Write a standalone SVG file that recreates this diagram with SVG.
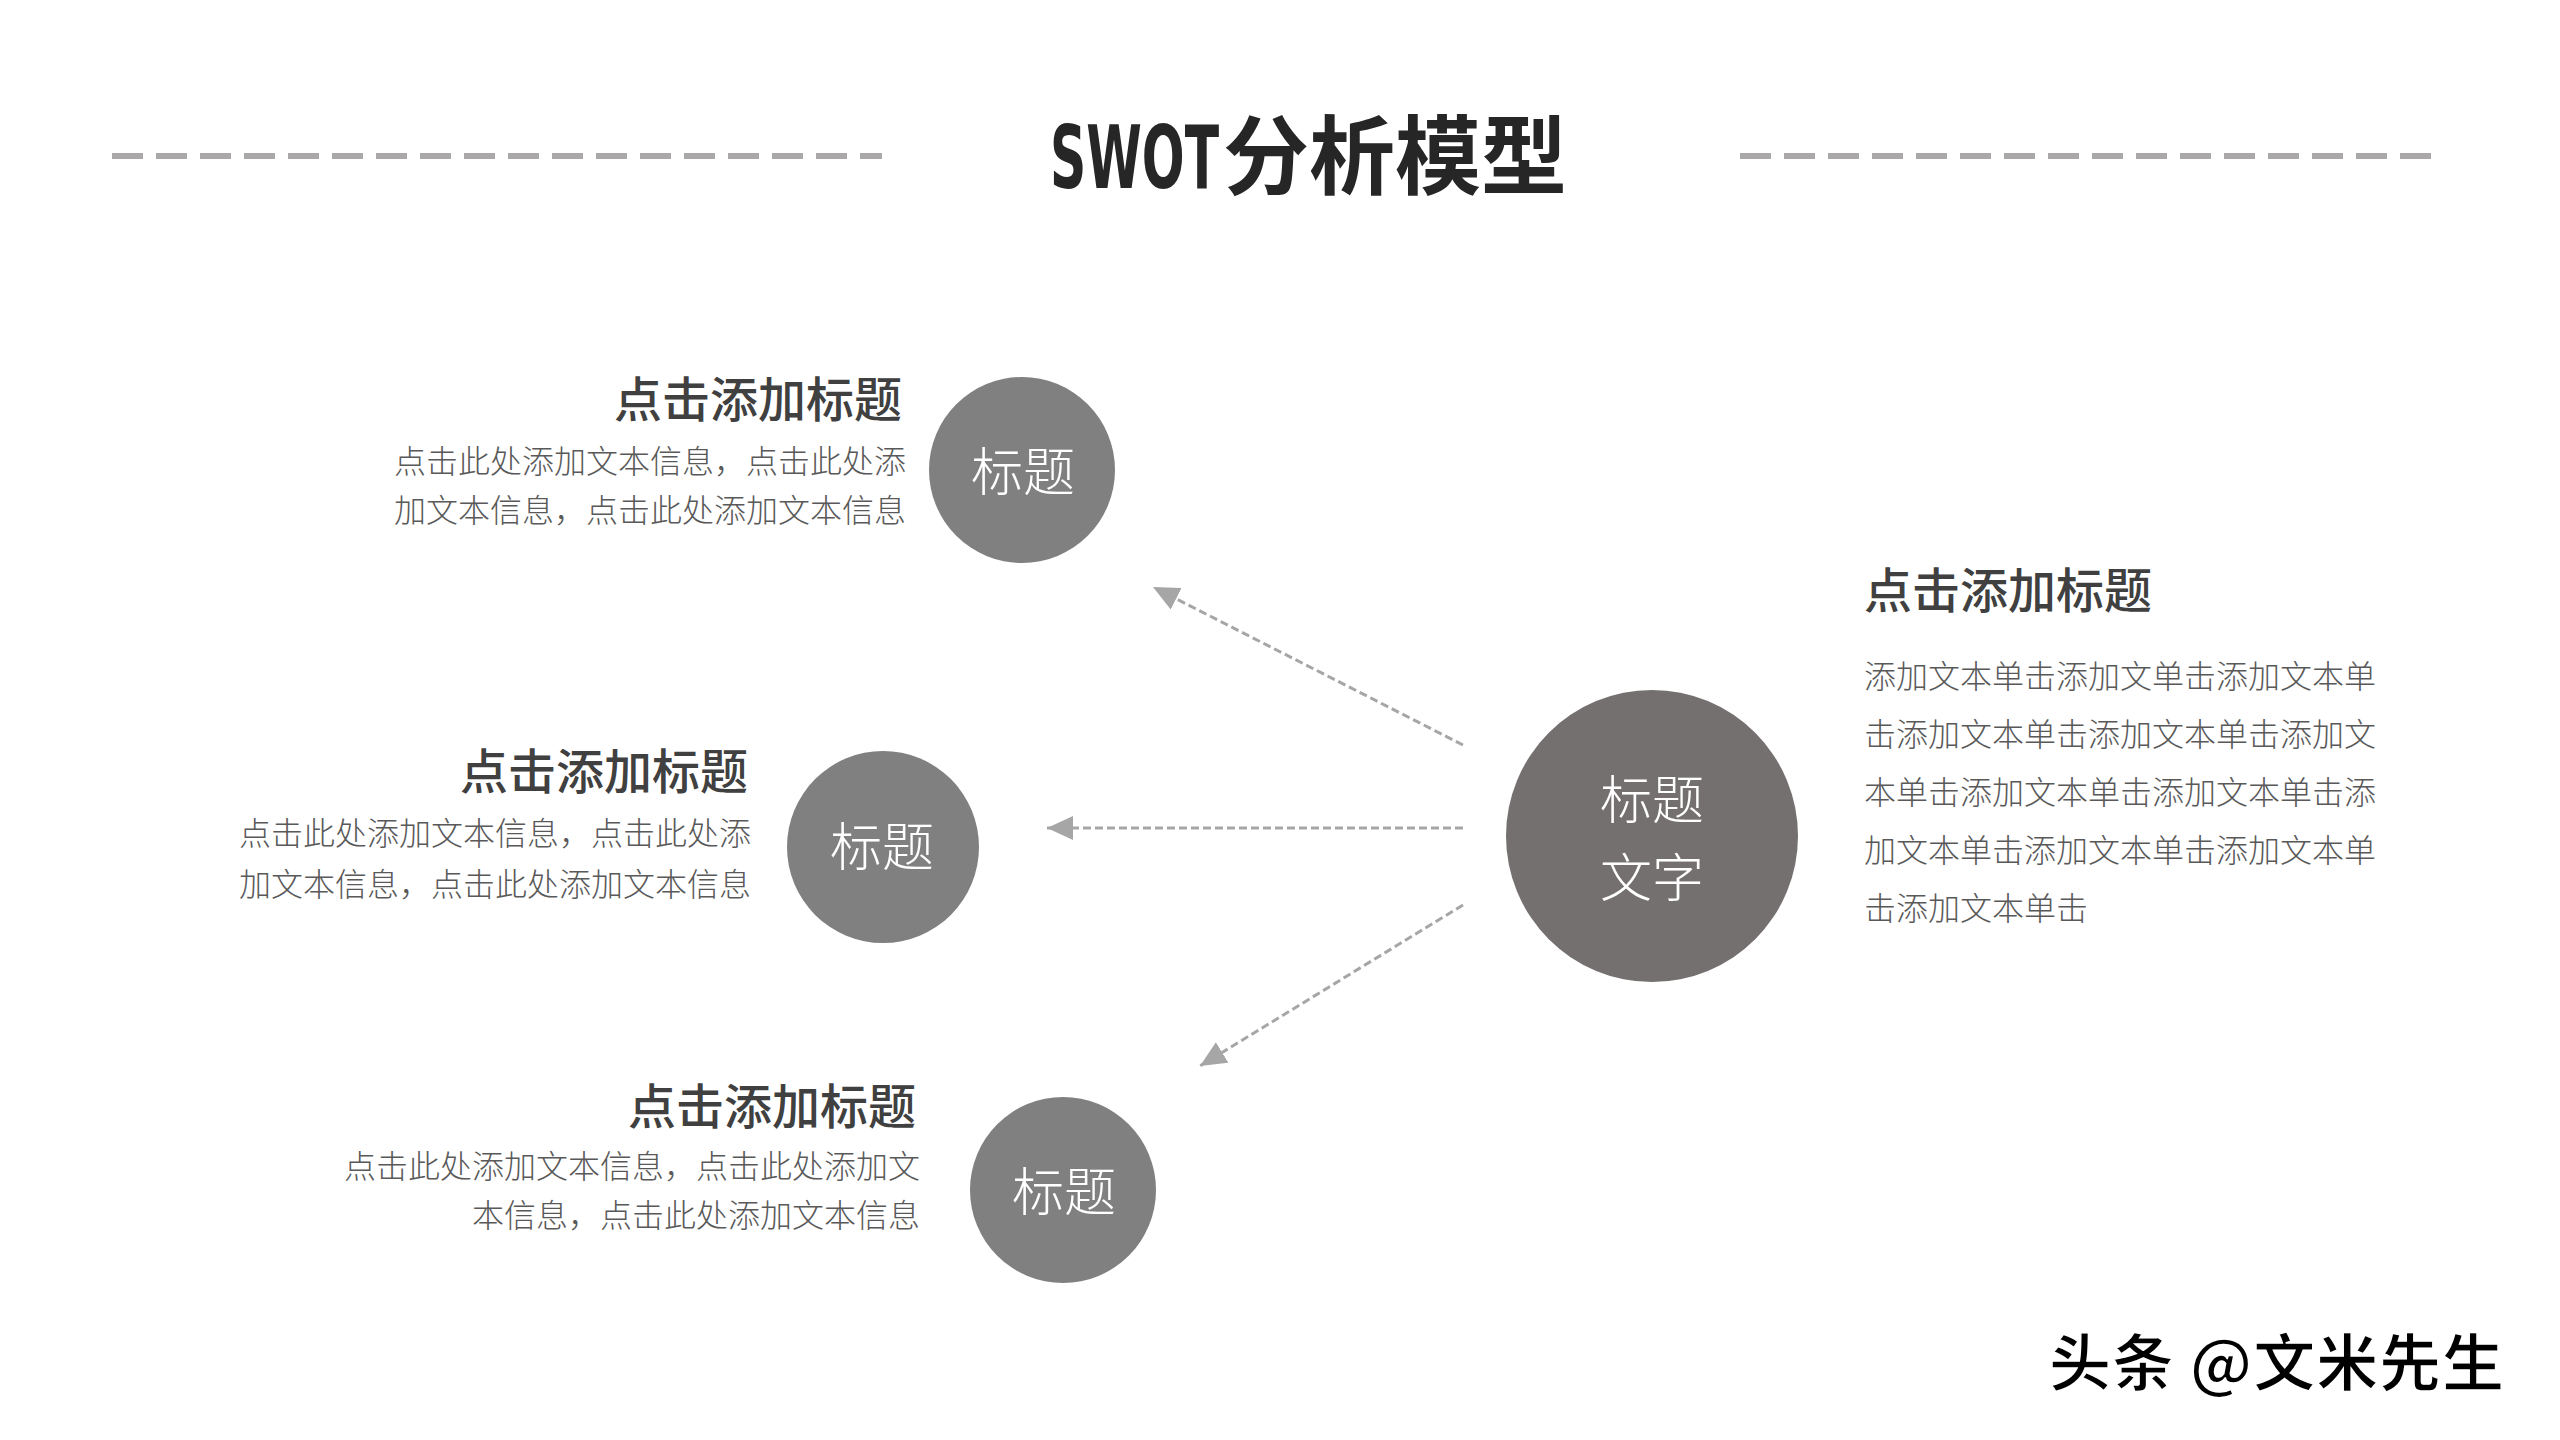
<svg xmlns="http://www.w3.org/2000/svg" width="2560" height="1440" viewBox="0 0 2560 1440">
<style>
.cjk{font-family:"Noto Sans CJK SC","Noto Sans",sans-serif}
.sub{font-size:48px;font-weight:500;fill:#404040}
.body{font-size:32px;font-weight:300;fill:#595959}
.ctext{font-size:52px;font-weight:300;fill:#ffffff;text-anchor:middle}
.deco{stroke:#aba8a9;stroke-width:6;stroke-dasharray:31 13;fill:none}
.conn{stroke:#a6a6a6;stroke-width:3;stroke-dasharray:8 4;fill:none}
</style>
<defs>
<marker id="ah" markerUnits="userSpaceOnUse" markerWidth="28" markerHeight="26" refX="26" refY="12" orient="auto">
<path d="M0,0 L26,12 L0,24 z" fill="#a6a6a6"/>
</marker>
</defs>
<rect width="2560" height="1440" fill="#ffffff"/>
<g id="title">
<line class="deco" x1="112" y1="156" x2="882" y2="156"/>
<line class="deco" x1="1740" y1="156" x2="2434" y2="156"/>
<text x="1050" y="119.75" transform="scale(1,1.57)" font-family="DejaVu Sans Condensed,sans-serif" font-weight="bold" font-size="56" fill="#262626">SWOT</text>
<text x="1223" y="188" font-family="Noto Sans CJK SC,sans-serif" font-weight="bold" font-size="86" fill="#262626">分析模型</text>
</g>
<g id="connectors">
<line class="conn" x1="1463" y1="745" x2="1153" y2="587" marker-end="url(#ah)"/>
<line class="conn" x1="1463" y1="828" x2="1047" y2="828" marker-end="url(#ah)"/>
<line class="conn" x1="1463" y1="905" x2="1200" y2="1066" marker-end="url(#ah)"/>
</g>
<g id="node-center">
<circle cx="1652" cy="836" r="146" fill="#747070"/>
<text class="cjk ctext" x="1652" y="819" font-size="64">标题</text>
<text class="cjk ctext" x="1652" y="897" font-size="64">文字</text>
</g>
<g id="node-top">
<circle cx="1022" cy="470" r="93" fill="#808080"/>
<text class="cjk ctext" x="1023" y="491">标题</text>
</g>
<g id="node-mid">
<circle cx="883" cy="847" r="96" fill="#808080"/>
<text class="cjk ctext" x="882" y="866">标题</text>
</g>
<g id="node-bot">
<circle cx="1063" cy="1190" r="93" fill="#808080"/>
<text class="cjk ctext" x="1064" y="1211">标题</text>
</g>
<g id="text-top" class="cjk" text-anchor="end">
<text class="sub" x="902" y="417">点击添加标题</text>
<text class="body" x="906" y="473">点击此处添加文本信息，点击此处添</text>
<text class="body" x="906" y="522">加文本信息，点击此处添加文本信息</text>
</g>
<g id="text-mid" class="cjk" text-anchor="end">
<text class="sub" x="748" y="789">点击添加标题</text>
<text class="body" x="751" y="845">点击此处添加文本信息，点击此处添</text>
<text class="body" x="751" y="896">加文本信息，点击此处添加文本信息</text>
</g>
<g id="text-bot" class="cjk" text-anchor="end">
<text class="sub" x="916" y="1124">点击添加标题</text>
<text class="body" x="920" y="1178">点击此处添加文本信息，点击此处添加文</text>
<text class="body" x="920" y="1227">本信息，点击此处添加文本信息</text>
</g>
<g id="text-right" class="cjk">
<text class="sub" x="1864" y="608">点击添加标题</text>
<text class="body" x="1864" y="688" font-size="34">添加文本单击添加文单击添加文本单</text>
<text class="body" x="1864" y="746" font-size="34">击添加文本单击添加文本单击添加文</text>
<text class="body" x="1864" y="804" font-size="34">本单击添加文本单击添加文本单击添</text>
<text class="body" x="1864" y="862" font-size="34">加文本单击添加文本单击添加文本单</text>
<text class="body" x="1864" y="920" font-size="34">击添加文本单击</text>
</g>
<g id="watermark">
<text class="cjk" x="2049" y="1386" font-size="62" font-weight="bold" fill="#000000" stroke="#ffffff" stroke-width="1.5" textLength="455" lengthAdjust="spacing">头条 @文米先生</text>
</g>
</svg>
